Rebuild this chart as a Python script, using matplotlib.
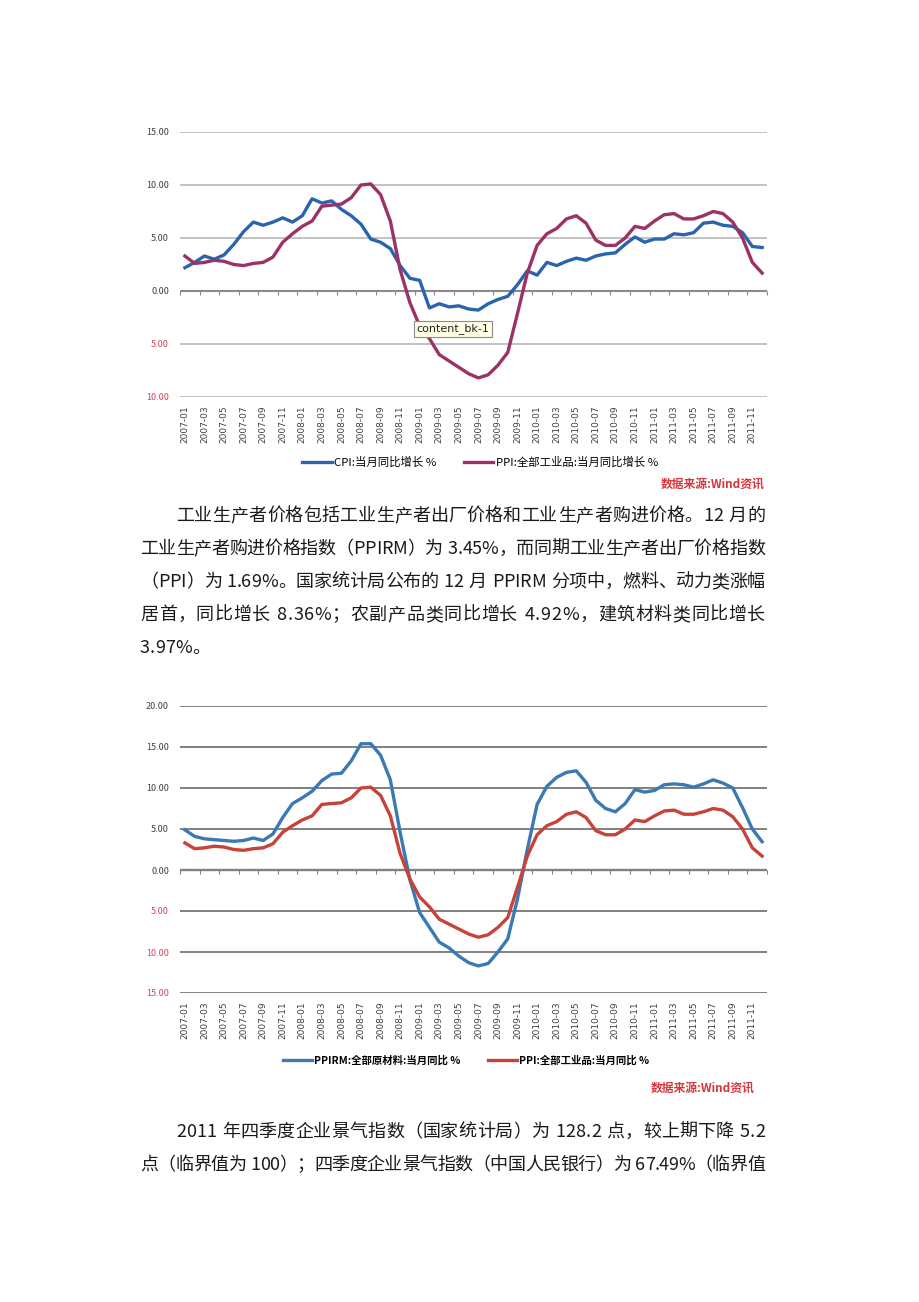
import matplotlib
matplotlib.use("Agg")
import matplotlib.pyplot as plt
import numpy as np

plt.rcParams['font.family'] = ['Noto Sans CJK SC', 'DejaVu Sans']

W, H = 920, 1302

# 月度标签 (每两个月一个)
month_labels = [
    "2007-01", "2007-03", "2007-05", "2007-07", "2007-09", "2007-11",
    "2008-01", "2008-03", "2008-05", "2008-07", "2008-09", "2008-11",
    "2009-01", "2009-03", "2009-05", "2009-07", "2009-09", "2009-11",
    "2010-01", "2010-03", "2010-05", "2010-07", "2010-09", "2010-11",
    "2011-01", "2011-03", "2011-05", "2011-07", "2011-09", "2011-11",
]

# CPI 当月同比 (2007-01 .. 2011-12)
cpi = [2.2, 2.7, 3.3, 3.0, 3.4, 4.4, 5.6, 6.5, 6.2, 6.5, 6.9, 6.5,
       7.1, 8.7, 8.3, 8.5, 7.7, 7.1, 6.3, 4.9, 4.6, 4.0, 2.4, 1.2,
       1.0, -1.6, -1.2, -1.5, -1.4, -1.7, -1.8, -1.2, -0.8, -0.5, 0.6, 1.9,
       1.5, 2.7, 2.4, 2.8, 3.1, 2.9, 3.3, 3.5, 3.6, 4.4, 5.1, 4.6,
       4.9, 4.9, 5.4, 5.3, 5.5, 6.4, 6.5, 6.2, 6.1, 5.5, 4.2, 4.1]

# PPI 全部工业品 当月同比
ppi = [3.3, 2.6, 2.7, 2.9, 2.8, 2.5, 2.4, 2.6, 2.7, 3.2, 4.6, 5.4,
       6.1, 6.6, 8.0, 8.1, 8.2, 8.8, 10.0, 10.1, 9.1, 6.6, 2.0, -1.1,
       -3.3, -4.5, -6.0, -6.6, -7.2, -7.8, -8.2, -7.9, -7.0, -5.8, -2.1, 1.7,
       4.3, 5.4, 5.9, 6.8, 7.1, 6.4, 4.8, 4.3, 4.3, 5.0, 6.1, 5.9,
       6.6, 7.2, 7.3, 6.8, 6.8, 7.1, 7.5, 7.3, 6.5, 5.0, 2.7, 1.69]

# PPIRM 全部原材料 当月同比
ppirm = [4.9, 4.1, 3.8, 3.7, 3.6, 3.5, 3.6, 3.9, 3.6, 4.4, 6.4, 8.1,
         8.8, 9.6, 10.9, 11.7, 11.8, 13.3, 15.4, 15.4, 14.0, 11.0, 4.6, -1.2,
         -5.2, -7.0, -8.8, -9.5, -10.5, -11.3, -11.7, -11.4, -10.0, -8.4, -3.5, 2.5,
         8.0, 10.2, 11.3, 11.9, 12.1, 10.7, 8.5, 7.5, 7.1, 8.1, 9.8, 9.5,
         9.7, 10.4, 10.5, 10.4, 10.1, 10.5, 11.0, 10.6, 10.0, 7.6, 5.0, 3.45]

chart1_legend = ["CPI:当月同比增长 %", "PPI:全部工业品:当月同比增长 %"]
chart2_legend = ["PPIRM:全部原材料:当月同比 %", "PPI:全部工业品:当月同比 %"]
source_text = "数据来源:Wind资讯"

para1 = [
    "工业生产者价格包括工业生产者出厂价格和工业生产者购进价格。12 月的",
    "工业生产者购进价格指数（PPIRM）为 3.45%，而同期工业生产者出厂价格指数",
    "（PPI）为 1.69%。国家统计局公布的 12 月 PPIRM 分项中，燃料、动力类涨幅",
    "居首，同比增长 8.36%；农副产品类同比增长 4.92%，建筑材料类同比增长",
    "3.97%。",
]
para2 = [
    "2011 年四季度企业景气指数（国家统计局）为 128.2 点，较上期下降 5.2",
    "点（临界值为 100）；四季度企业景气指数（中国人民银行）为 67.49%（临界值",
]


def px_axes(fig, left, top, right, bottom):
    return fig.add_axes([left / W, 1 - bottom / H, (right - left) / W, (bottom - top) / H])


def draw_chart(fig, box, series, ylim, grid_color, grid_lw, zero_color, fs):
    ax = px_axes(fig, *box)
    x = np.arange(60)
    handles = []
    for vals, color in series:
        h, = ax.plot(x, vals, color=color, lw=2.4, solid_joinstyle="round", zorder=3)
        handles.append(h)
    ax.set_xlim(-0.5, 59.5)
    ax.set_ylim(*ylim)
    for sp in ax.spines.values():
        sp.set_visible(False)

    yt = np.arange(ylim[0], ylim[1] + 0.1, 5)
    ax.set_yticks(yt)
    ax.set_yticklabels([f"{abs(v):.2f}" for v in yt], fontsize=fs)
    for lab, v in zip(ax.get_yticklabels(), yt):
        lab.set_color("#c8485a" if v < 0 else "#404040")
    ax.tick_params(axis="y", length=0, pad=8)
    ax.yaxis.grid(True, color=grid_color, lw=grid_lw)
    ax.set_axisbelow(True)
    ax.axhline(0, color=zero_color, lw=grid_lw + 0.3, zorder=2)

    ax.set_xticks(np.arange(0, 60, 2))
    ax.set_xticklabels(month_labels, rotation=90, fontsize=fs,
                       family=["DejaVu Sans"], color="#404040")
    ax.tick_params(axis="x", length=0, pad=6)

    # 零轴上的刻度线
    frac = (0 - ylim[0]) / (ylim[1] - ylim[0])
    sec = ax.secondary_xaxis(frac)
    sec.set_alignment("bottom")
    sec.set_xticks(np.arange(-0.5, 60, 2))
    sec.tick_params(axis="x", length=3, width=0.8, direction="out",
                    color=zero_color, labelbottom=False, labeltop=False)
    for sp in sec.spines.values():
        sp.set_visible(False)
    return ax, handles


def put_line(fig, renderer, s, x0, x1, y, size, justify):
    items = []
    for c in s:
        if c == " ":
            items.append((None, size * 100 / 72 * 0.3))
        else:
            t = fig.text(0, 1 - y / H, c, fontsize=size, color="#1a1a1a",
                         ha="left", va="center")
            items.append((t, t.get_window_extent(renderer).width))
    total = sum(w for _, w in items)
    gap = (x1 - x0 - total) / (len(items) - 1) if justify and len(items) > 1 else 0
    x = x0
    for t, w in items:
        if t is not None:
            t.set_x(x / W)
        x += w + gap


fig = plt.figure(figsize=(W / 100, H / 100), dpi=100)
fig.patch.set_facecolor("white")

# 图 1: CPI 与 PPI
ax1, h1 = draw_chart(fig, (180, 132, 767, 397), [(cpi, "#2a63ae"), (ppi, "#9c3263")],
                     (-10, 15), "#b8b8b8", 1.2, "#8a8a8a", 6.5)
ax1.legend(h1, chart1_legend, loc="center", bbox_to_anchor=(480 / W, 1 - 462 / H),
           bbox_transform=fig.transFigure, ncol=2, frameon=False, handlelength=2.6,
           columnspacing=2.4, handletextpad=0.2, prop={"size": 8.2})
fig.text(453 / W, 1 - 329 / H, "content_bk-1", fontsize=8, family=["DejaVu Sans"],
         ha="center", va="center", color="#222222",
         bbox=dict(boxstyle="square,pad=0.25", fc="#ffffe6", ec="#8a8a8a", lw=0.8))
fig.text(765 / W, 1 - 484 / H, source_text, fontsize=8.5, weight="bold",
         color="#d8363e", ha="right", va="center")

# 图 2: PPIRM 与 PPI
ax2, h2 = draw_chart(fig, (180, 706, 767, 993), [(ppirm, "#3a79b3"), (ppi, "#c9423a")],
                     (-15, 20), "#808080", 1.4, "#808080", 6.5)
ax2.legend(h2, chart2_legend, loc="center", bbox_to_anchor=(466 / W, 1 - 1060 / H),
           bbox_transform=fig.transFigure, ncol=2, frameon=False, handlelength=2.8,
           columnspacing=2.6, handletextpad=0.2, prop={"size": 7.5, "weight": "bold"})
fig.text(755 / W, 1 - 1088 / H, source_text, fontsize=8.5, weight="bold",
         color="#d8363e", ha="right", va="center")

# 正文
renderer = fig.canvas.get_renderer()
ys1 = [516, 549, 582, 615, 648]
for i, (line, y) in enumerate(zip(para1, ys1)):
    x0 = 176 if i == 0 else 140
    put_line(fig, renderer, line, x0, 765, y, 13, i < len(para1) - 1)
ys2 = [1132, 1165]
for i, (line, y) in enumerate(zip(para2, ys2)):
    x0 = 176 if i == 0 else 140
    put_line(fig, renderer, line, x0, 765, y, 13, True)

fig.savefig("out.png", dpi=100)
